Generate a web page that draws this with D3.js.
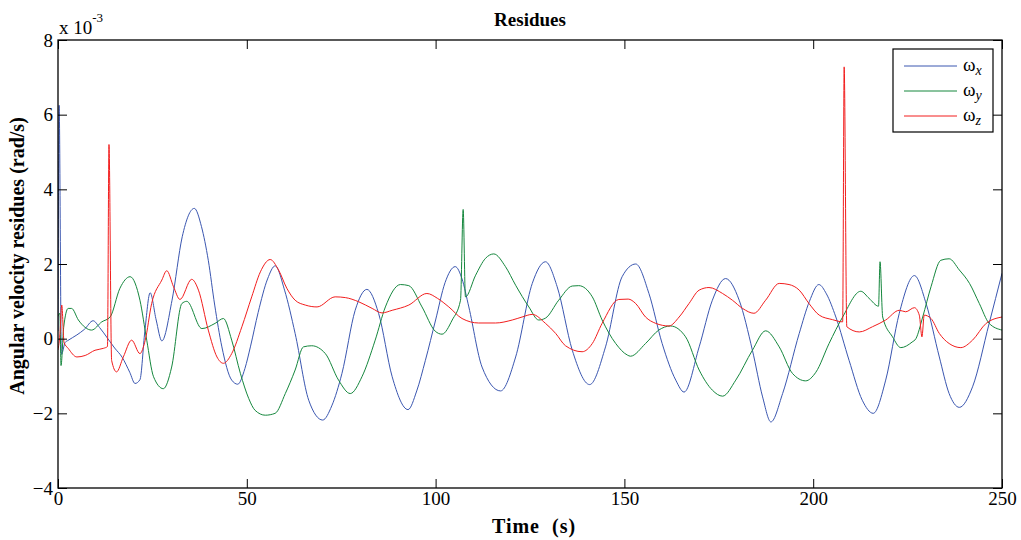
<!DOCTYPE html>
<html>
<head>
<meta charset="utf-8">
<script src="https://cdn.jsdelivr.net/npm/d3@7"></script>
<style>
  body { margin: 0; background: #fff; }
  svg text { font-family: "Liberation Serif", "Times New Roman", serif; }
</style>
</head>
<body>
<div id="chart"></div>
<script>
// residues, in units of 1e-3 rad/s as [time, value]
const wx = [
  [0, 0.2], [0.3, 6.25], [0.9, -0.42], [1.9, -0.1], [2.6, -0.05], [5, 0.1], [7, 0.25], [9.3, 0.48],
  [11, 0.3], [13.2, 0.0], [15, -0.25], [17, -0.5], [19, -0.9], [20.4, -1.2], [21.7, -1.1],
  [23, 0.2], [24.4, 1.23], [26, 0.5], [27.5, -0.06], [30.2, 1.03], [32.9, 2.73], [36.1, 3.49],
  [38, 3.0], [39.8, 2.1], [41.5, 0.9], [43.4, -0.22], [46, -1.11], [47.6, -1.22], [49.5, -0.8],
  [51, -0.2], [53, 0.7], [55.5, 1.6], [57.5, 1.95], [60, 1.3], [62.8, 0.14], [66.4, -1.65],
  [70.1, -2.18], [72.5, -1.8], [75.2, -0.93], [78.7, 0.76], [81.8, 1.32], [84.9, 0.68],
  [88.5, -1.02], [92.7, -1.9], [95, -1.4], [97.3, -0.58], [100, 0.5], [102.5, 1.5], [105.2, 1.93],
  [107, 1.6], [108.8, 0.85], [112.3, -0.76], [117.2, -1.4], [121.2, -0.49], [125.6, 1.48],
  [129.1, 2.06], [132.2, 1.39], [136.2, -0.31], [140.8, -1.23], [145, -0.22], [149.4, 1.66],
  [153, 2.0], [156.5, 1.21], [160, -0.13], [163.6, -1.11], [165.8, -1.43], [169.8, -0.22],
  [173.3, 1.03], [176.8, 1.61], [180.4, 1.03], [183.9, -0.31], [186.6, -1.56], [188.8, -2.23],
  [191.9, -1.47], [196.3, 0.14], [199, 1.0], [201.5, 1.45], [203.5, 1.2], [206, 0.58],
  [209.5, -0.58], [213, -1.65], [215.9, -2.0], [219.2, -1.11], [222.8, 0.68], [226.8, 1.69],
  [229.9, 0.94], [233.4, -0.49], [236, -1.47], [238.7, -1.84], [242.2, -1.29], [246.6, 0.41],
  [250, 1.75]
];
const wy = [
  [0, 0.6], [0.5, 0.68], [0.8, -0.72], [1.5, 0.3], [2.7, 0.81], [3.6, 0.81], [5.4, 0.5],
  [8.9, 0.23], [11.6, 0.45], [13.8, 0.58], [16.4, 1.35], [19.1, 1.66], [21.7, 1.03],
  [23.5, -0.04], [25.3, -1.02], [27.9, -1.34], [30.1, -0.76], [32.8, 0.94], [34.1, 1.0],
  [38.1, 0.27], [41.6, 0.41], [43.8, 0.54], [46, -0.04], [48.3, -0.93], [50.5, -1.6],
  [52.2, -1.92], [54.9, -2.05], [57.5, -2.0], [60.2, -1.47], [62.8, -0.84], [65, -0.22],
  [67.2, -0.19], [70.8, -0.4], [74.3, -1.11], [77.4, -1.47], [80.5, -1.02], [84, -0.04],
  [86.7, 0.85], [90.7, 1.45], [92.9, 1.42], [96.4, 0.85], [99.9, 0.2], [101.7, 0.12],
  [104.4, 0.5], [106.6, 1.03], [107.3, 3.46], [107.9, 1.12], [110.6, 1.7], [113.2, 2.15],
  [115.4, 2.27], [118.5, 1.93], [121.2, 1.43], [124.7, 0.85], [127.3, 0.5], [129.1, 0.55],
  [132.6, 1.03], [136.2, 1.41], [137.9, 1.42], [141.5, 1.12], [144.1, 0.5], [147.7, -0.13],
  [150.8, -0.44], [151.6, -0.47], [155.6, -0.13], [159.1, 0.23], [162.2, 0.34], [166.2, 0.05],
  [169.8, -0.84], [173.3, -1.38], [176, -1.54], [179.5, -1.11], [183.9, -0.31], [187.4, 0.21],
  [191, -0.22], [194.5, -0.93], [198, -1.13], [200.7, -0.9], [204.2, -0.13], [207.8, 0.58],
  [212.6, 1.27], [214.8, 1.08], [217.3, 0.87], [217.7, 2.06], [218.4, 0.58], [221, 0.05],
  [223.2, -0.24], [226.2, -0.09], [227.2, 0.0], [229, 0.58], [231.2, 1.39], [233.8, 2.1],
  [236, 2.14], [238.7, 1.84], [241.4, 1.48], [244, 0.94], [246.6, 0.41], [250, 0.23]
];
const wz = [
  [0, -0.3], [0.5, 0.1], [1.0, 0.9], [1.6, -0.1], [2.7, -0.26], [5, -0.49], [7.2, -0.45],
  [9.8, -0.31], [12, -0.26], [13.1, -0.21], [13.5, 5.2], [14.2, -0.58], [15.5, -0.89],
  [17.3, -0.49], [19.5, -0.04], [21.7, -0.4], [23.1, -0.04], [24.8, 0.94], [27.5, 1.57],
  [28.8, 1.82], [30.6, 1.39], [32.3, 1.05], [35.4, 1.59], [37.2, 1.3], [39.8, 0.23],
  [42.1, -0.49], [43.8, -0.66], [46, -0.4], [48.7, 0.32], [51.3, 1.12], [53.6, 1.79],
  [56.2, 2.12], [58.4, 1.84], [60.6, 1.35], [62.8, 1.03], [65.5, 0.9], [68.6, 0.85],
  [73.4, 1.12], [76.1, 1.1], [79.6, 0.99], [83.2, 0.81], [85.8, 0.69], [88.5, 0.76],
  [92.9, 0.9], [97.7, 1.21], [100.5, 1.08], [103.5, 0.85], [107, 0.54], [111.4, 0.42],
  [115.9, 0.42], [120.3, 0.5], [122.9, 0.58], [125.6, 0.65], [129.1, 0.41], [131.8, 0.14],
  [134.4, -0.19], [138.8, -0.35], [141.5, -0.13], [144.1, 0.41], [148.5, 1.05], [151, 1.06],
  [153, 0.94], [155.6, 0.58], [158.3, 0.41], [161.8, 0.34], [164.5, 0.58], [167.1, 0.94],
  [169.8, 1.3], [172.4, 1.37], [176, 1.21], [178.6, 1.03], [181.3, 0.81], [184.3, 0.68],
  [187.4, 1.03], [191, 1.48], [193.6, 1.45], [196.3, 1.3], [198.9, 0.94], [201.6, 0.63],
  [205.1, 0.51], [207.8, 0.45], [208.2, 7.28], [208.9, 0.32], [212.2, 0.18], [215.7, 0.32],
  [219.2, 0.5], [222.8, 0.76], [224.5, 0.72], [226.8, 0.83], [228.1, 0.63], [228.8, 0.05],
  [229.4, 0.63], [231.2, 0.54], [233.4, 0.14], [236, -0.13], [239.1, -0.24], [242.2, -0.04],
  [245.8, 0.41], [250, 0.58]
];

const seriesNames = ["x", "y", "z"];
const seriesColors = ["#3a56b0", "#15873d", "#f21d1d"];
const xTicks = [0, 50, 100, 150, 200, 250];
const yTicks = [-4, -2, 0, 2, 4, 6, 8];

const W = 1021, H = 540;
const margin = { top: 40, right: 19, bottom: 52, left: 58 };
const width = W - margin.left - margin.right;
const height = H - margin.top - margin.bottom;

const svg = d3.select("#chart").append("svg")
  .attr("width", W)
  .attr("height", H);

const g = svg.append("g")
  .attr("transform", "translate(" + margin.left + "," + margin.top + ")");

const x = d3.scaleLinear().domain([0, 250]).range([0, width]);
const y = d3.scaleLinear().domain([-4, 8]).range([height, 0]);

// clip the lines to the axes box
g.append("clipPath").attr("id", "clip")
  .append("rect").attr("width", width).attr("height", height);

const line = d3.line()
  .x(d => x(d[0]))
  .y(d => y(d[1]))
  .curve(d3.curveMonotoneX);

const plot = g.append("g").attr("clip-path", "url(#clip)");
[wx, wy, wz].forEach((s, i) => {
  plot.append("path")
    .datum(s)
    .attr("fill", "none")
    .attr("stroke", seriesColors[i])
    .attr("stroke-width", 1)
    .attr("d", line);
});

// axes, ticks pointing inward like matlab
const tick = 9;
function styleAxis(sel) {
  sel.attr("font-family", null).attr("font-size", null);
  sel.select(".domain").remove();
  sel.selectAll(".tick line").attr("stroke", "#000");
  sel.selectAll("text")
    .attr("fill", "#000")
    .style("font-size", "19px");
}

g.append("g")
  .attr("transform", "translate(0," + height + ")")
  .call(d3.axisBottom(x).tickValues(xTicks).tickSizeInner(-tick).tickSizeOuter(0).tickPadding(3))
  .call(styleAxis);
g.append("g")
  .call(d3.axisTop(x).tickValues(xTicks).tickSizeInner(-tick).tickSizeOuter(0).tickFormat(""))
  .call(styleAxis);
g.append("g")
  .call(d3.axisLeft(y).tickValues(yTicks).tickSizeInner(-tick).tickSizeOuter(0).tickPadding(5))
  .call(styleAxis);
g.append("g")
  .attr("transform", "translate(" + width + ",0)")
  .call(d3.axisRight(y).tickValues(yTicks).tickSizeInner(-tick).tickSizeOuter(0).tickFormat(""))
  .call(styleAxis);

g.append("rect")
  .attr("width", width)
  .attr("height", height)
  .attr("fill", "none")
  .attr("stroke", "#000")
  .attr("stroke-width", 1.3);

// exponent label
const expo = svg.append("text")
  .attr("x", 59)
  .attr("y", 34)
  .style("font-size", "19px");
expo.append("tspan").text("x 10");
expo.append("tspan").attr("dy", -12).style("font-size", "13px").text("-3");

// title and axis labels
svg.append("text")
  .attr("x", margin.left + width / 2)
  .attr("y", 26)
  .attr("text-anchor", "middle")
  .style("font-weight", "bold")
  .style("font-size", "19px")
  .text("Residues");

svg.append("text")
  .attr("x", margin.left + width / 2 + 4)
  .attr("y", 533)
  .attr("text-anchor", "middle")
  .style("font-weight", "bold")
  .style("font-size", "20px")
  .style("letter-spacing", "1px")
  .text("Time  (s)")
  .attr("xml:space", "preserve")
  .style("white-space", "pre");

svg.append("text")
  .attr("transform", "translate(24," + (margin.top + height / 2 - 8) + ") rotate(-90)")
  .attr("text-anchor", "middle")
  .style("font-weight", "bold")
  .style("font-size", "20px")
  .text("Angular velocity residues (rad/s)");

// legend
const lg = svg.append("g").attr("transform", "translate(893,49)");
lg.append("rect")
  .attr("width", 100)
  .attr("height", 83)
  .attr("fill", "#fff")
  .attr("stroke", "#000")
  .attr("stroke-width", 1.2);
seriesNames.forEach((n, i) => {
  const yy = 17 + i * 25;
  lg.append("line")
    .attr("x1", 11).attr("x2", 64)
    .attr("y1", yy).attr("y2", yy)
    .attr("stroke", seriesColors[i])
    .attr("stroke-width", 1);
  const t = lg.append("text")
    .attr("x", 70)
    .attr("y", yy + 5)
    .style("font-size", "19px");
  t.append("tspan").text("ω");
  t.append("tspan")
    .attr("dy", 4)
    .style("font-size", "14px")
    .style("font-style", "italic")
    .text(n);
});
</script>
</body>
</html>
